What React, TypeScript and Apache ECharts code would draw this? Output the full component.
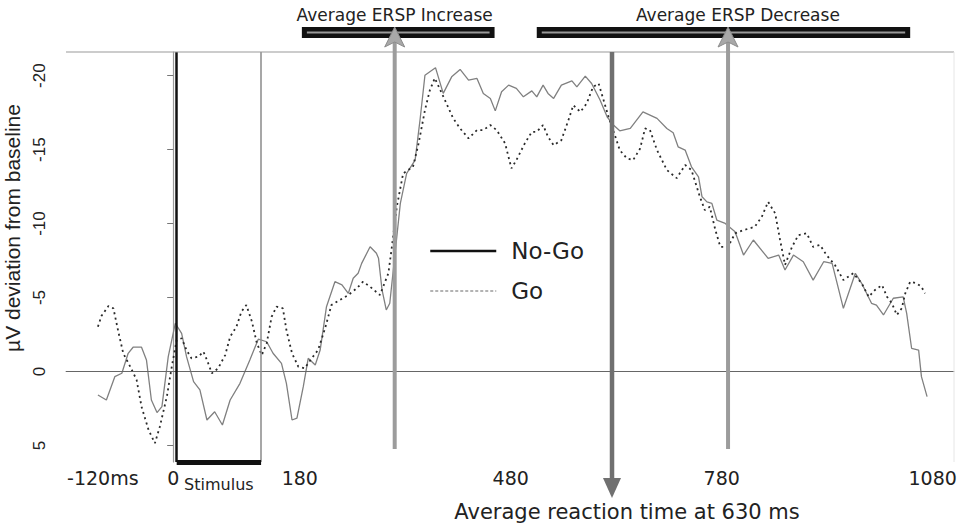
import React, { useEffect, useRef } from 'react';
import * as echarts from 'echarts';

// ---- data (time in ms, amplitude in µV; axis is inverted: negative up) ----
const noGoTimes = [
  -107, -95, -83, -73, -64, -57, -45, -38, -31, -23,
  -16, -7, 3, 12, 19, 29, 38, 48, 59, 70,
  81, 95, 109, 121, 133, 142, 154, 161, 169, 176,
  185, 192, 202, 209, 218, 230, 240, 249, 256, 263,
  268, 280, 289, 292, 297, 303, 308, 315, 323, 332,
  344, 351, 358, 373, 384, 396, 408, 420, 432, 441,
  451, 458, 467, 477, 488, 498, 510, 517, 526, 533,
  541, 552, 567, 574, 586, 595, 607, 617, 626, 635,
  650, 668, 688, 702, 711, 718, 728, 737, 747, 752,
  759, 766, 773, 785, 799, 811, 825, 846, 861, 870,
  882, 896, 910, 925, 937, 953, 970, 979, 993, 1000,
  1010, 1024, 1038, 1043, 1050, 1060, 1062, 1064, 1072,
];
const noGoValues = [
  1.59, 1.93, 0.35, 0.12, -1.23, -1.64, -1.64, -0.78, 1.93, 2.78,
  2.38, -1.0, -3.26, -2.58, -1.0, 0.69, 1.25, 3.28, 2.72, 3.62,
  1.93, 0.8, -0.78, -2.18, -2.01, -1.23, -0.55, 0.8, 3.28, 3.16,
  1.03, -0.89, -0.44, -1.45, -4.38, -6.07, -5.85, -5.28, -6.3, -6.64,
  -7.31, -8.43, -7.99, -7.65, -5.51, -4.16, -4.61, -7.76, -11.37, -13.39,
  -14.29, -17.0, -20.03, -20.54, -18.8, -19.92, -20.42, -19.7, -19.81, -18.8,
  -18.46, -17.62, -18.91, -19.36, -19.14, -18.57, -18.97, -18.57, -19.36, -18.8,
  -18.46, -19.36, -19.65, -19.24, -19.97, -19.47, -18.35, -17.22, -16.66, -16.27,
  -16.43, -17.55, -17.11, -16.43, -16.14, -15.19, -14.97, -13.84, -13.16, -11.81,
  -11.47, -11.37, -10.24, -10.01, -9.45, -7.87, -8.89, -7.65, -7.87, -6.86,
  -7.87, -7.42, -6.18, -7.42, -7.31, -4.27, -6.64, -5.96, -4.61, -4.49,
  -3.82, -4.95, -5.05, -3.93, -1.57, -1.45, -0.55, 0.35, 1.7,
];
const goTimes = [
  -107, -102, -92, -85, -78, -71, -61, -52, -45, -35,
  -26, -19, -9, -2, 5, 12, 19, 26, 36, 43,
  48, 55, 64, 74, 81, 90, 97, 104, 112, 119,
  126, 133, 140, 147, 156, 161, 169, 178, 187, 197,
  206, 216, 225, 237, 249, 261, 270, 280, 294, 306,
  311, 318, 327, 341, 349, 358, 365, 372, 384, 398,
  408, 420, 432, 441, 451, 460, 472, 481, 488, 500,
  510, 517, 526, 533, 541, 552, 562, 569, 579, 588,
  597, 605, 612, 619, 628, 635, 645, 654, 664, 671,
  678, 688, 702, 716, 728, 737, 749, 756, 763, 771,
  778, 789, 799, 811, 827, 837, 846, 856, 863, 870,
  880, 889, 901, 910, 920, 929, 941, 953, 967, 979,
  989, 998, 1008, 1015, 1022, 1029, 1036, 1041, 1048, 1057,
  1064, 1069,
];
const goValues = [
  -3.03, -3.75, -4.43, -4.27, -2.69, -1.23, -0.32, 0.57, 2.38, 3.95,
  4.85, 3.73, 1.7, -0.32, -2.13, -2.24, -1.45, -0.89, -1.0, -1.34,
  -0.78, 0.12, -0.22, -1.11, -2.35, -3.03, -4.04, -4.49, -3.37, -1.91,
  -1.11, -1.91, -3.7, -4.38, -4.27, -2.8, -1.23, -0.32, -0.22, -0.89,
  -1.45, -2.92, -4.49, -4.83, -5.17, -5.62, -6.07, -5.73, -5.17, -6.64,
  -8.43, -11.14, -13.39, -13.84, -15.42, -17.67, -19.02, -19.83, -18.6, -17.13,
  -16.43, -15.76, -16.32, -16.32, -16.66, -16.32, -15.42, -13.73, -14.29, -15.42,
  -16.2, -16.2, -16.66, -15.87, -15.3, -15.64, -16.99, -18.0, -17.55, -18.12,
  -19.24, -19.47, -18.35, -17.22, -15.98, -14.97, -14.41, -14.29, -15.08, -16.43,
  -16.32, -14.97, -13.62, -13.07, -13.96, -13.62, -11.81, -10.91, -11.14, -9.56,
  -8.43, -8.43, -9.34, -9.56, -9.78, -10.46, -11.47, -10.69, -8.89, -7.2,
  -8.43, -9.22, -9.34, -8.43, -8.55, -7.87, -7.2, -6.18, -6.64, -5.96,
  -5.05, -5.51, -5.84, -5.05, -4.61, -3.82, -4.27, -5.28, -6.07, -5.96,
  -5.73, -5.28,
];

const xTickValues = [-120, 0, 180, 480, 780, 1080];
const yTickValues = [-20, -15, -10, -5, 0, 5];

const xMin = -152.4;
const xMax = 1110.3;
const yMin = -21.6;
const yMax = 6.12;

const stimulusStart = 5;
const stimulusEnd = 125;
const erspIncreaseArrowAt = 315;
const reactionTimeArrowAt = 624;
const erspDecreaseArrowAt = 789;
const erspIncreaseRange = [183, 457];
const erspDecreaseRange = [517, 1048];
const erspDecreaseLabelAt = 803;

const SANS = '"DejaVu Sans", sans-serif';
const ARIAL = '"Liberation Sans", Arial, sans-serif';

export default function App() {
  const ref = useRef<HTMLDivElement>(null);

  useEffect(() => {
    const chart = echarts.init(ref.current!, null, { renderer: 'svg' });
    const option: any = {
      animation: false,
      backgroundColor: '#ffffff',
      grid: {
        left: 66,
        top: 52,
        right: 4,
        bottom: 67,
        containLabel: false,
        outerBoundsMode: 'none',
      },
      legend: {
        orient: 'vertical',
        left: 429,
        top: 238,
        padding: 0,
        itemWidth: 66,
        itemHeight: 20,
        itemGap: 14,
        textStyle: {
          fontFamily: SANS,
          fontSize: 23,
          color: '#222',
          lineHeight: 26,
          padding: [0, 0, 0, 10],
        },
        data: [
          {
            name: 'No-Go',
            itemStyle: { opacity: 0 },
            lineStyle: { color: '#111', width: 2.5, type: 'solid' },
          },
          {
            name: 'Go',
            itemStyle: { opacity: 0 },
            lineStyle: { color: '#9a9a9a', width: 1.5, type: [3, 2] },
          },
        ],
      },
      xAxis: {
        type: 'value',
        min: xMin,
        max: xMax,
        axisLine: { show: true, lineStyle: { color: '#9a9a9a', width: 1.2 } },
        axisTick: { show: false },
        splitLine: { show: false },
        axisLabel: {
          customValues: xTickValues,
          formatter: (v: number) => (v === -120 ? '{s|}-120ms' : String(v)),
          fontFamily: SANS,
          fontSize: 19,
          color: '#222',
          margin: 6,
          rich: { s: { width: 28 } },
        },
      },
      yAxis: {
        type: 'value',
        inverse: true,
        min: yMin,
        max: yMax,
        name: 'µV deviation from baseline',
        nameLocation: 'middle',
        nameGap: 33,
        nameTextStyle: {
          fontFamily: ARIAL,
          fontSize: 21,
          color: '#222',
          padding: [0, 0, 0, 58],
        },
        axisLine: { show: true, lineStyle: { color: '#9a9a9a', width: 1.2 } },
        axisTick: {
          show: true,
          customValues: yTickValues,
          length: 6,
          lineStyle: { color: '#777' },
        },
        splitLine: { show: false },
        axisLabel: {
          customValues: yTickValues,
          rotate: 90,
          fontFamily: ARIAL,
          fontSize: 17,
          color: '#222',
          margin: 18,
        },
      },
      series: [
        {
          name: 'No-Go',
          type: 'line',
          data: noGoTimes.map((t, i) => [t, noGoValues[i]]),
          symbol: 'none',
          z: 3,
          itemStyle: { color: '#111' },
          lineStyle: { color: '#808080', width: 1.3 },
          markLine: {
            silent: true,
            symbol: 'none',
            label: { show: false },
            data: [
              { yAxis: 0, lineStyle: { color: '#666', width: 1.2, type: 'solid' } },
              { xAxis: stimulusStart, lineStyle: { color: '#111', width: 2.5, type: 'solid' } },
              { xAxis: stimulusEnd, lineStyle: { color: '#8a8a8a', width: 1.5, type: 'solid' } },
            ],
          },
        },
        {
          name: 'Go',
          type: 'line',
          data: goTimes.map((t, i) => [t, goValues[i]]),
          symbol: 'none',
          z: 4,
          itemStyle: { color: '#9a9a9a' },
          lineStyle: { color: '#2a2a2a', width: 1.8, type: [2, 3.5] },
        },
      ],
    };
    chart.setOption(option);

    const px = (t: number, v: number) => chart.convertToPixel({ gridIndex: 0 }, [t, v]) as number[];
    const [xl, yt] = px(xMin, yMin);
    const [xr, yb] = px(xMax, yMax);
    const xInc = px(erspIncreaseArrowAt, 0)[0];
    const xRt = px(reactionTimeArrowAt, 0)[0];
    const xDec = px(erspDecreaseArrowAt, 0)[0];
    const xS0 = px(stimulusStart, 0)[0];
    const xS1 = px(stimulusEnd, 0)[0];
    const [b1a, b1b] = erspIncreaseRange.map((t) => px(t, 0)[0]);
    const [b2a, b2b] = erspDecreaseRange.map((t) => px(t, 0)[0]);
    const xDecLabel = px(erspDecreaseLabelAt, 0)[0];

    const bar = (a: number, b: number) => [
      { type: 'rect', z: 20, shape: { x: a, y: 27, width: b - a, height: 11 }, style: { fill: '#111' } },
      { type: 'line', z: 21, shape: { x1: a + 5, y1: 32.5, x2: b - 5, y2: 32.5 }, style: { stroke: '#9a9a9a', lineWidth: 2 } },
    ];
    const upArrow = (x: number) => [
      { type: 'line', z: 30, shape: { x1: x, y1: 449, x2: x, y2: 40 }, style: { stroke: '#9c9c9c', lineWidth: 4 } },
      {
        type: 'polygon', z: 31,
        shape: { points: [[x, 27], [x + 10, 47], [x, 42], [x - 10, 47]] },
        style: { fill: '#a8a8a8', stroke: '#8c8c8c', lineWidth: 1 },
      },
    ];
    const text = (s: string, x: number, y: number, size: number, family = SANS) => ({
      type: 'text', z: 40, x, y,
      style: { text: s, fill: '#222', fontSize: size, fontFamily: family, align: 'center', verticalAlign: 'middle' },
    });

    chart.setOption({
      graphic: [
        { type: 'line', z: 5, shape: { x1: xl, y1: yt, x2: xr, y2: yt }, style: { stroke: '#9a9a9a', lineWidth: 1.2 } },
        { type: 'line', z: 5, shape: { x1: xr, y1: yt, x2: xr, y2: yb }, style: { stroke: '#e6e6e6', lineWidth: 1 } },
        { type: 'rect', z: 20, shape: { x: xS0, y: 460, width: xS1 - xS0, height: 5 }, style: { fill: '#111' } },
        ...bar(b1a, b1b),
        ...bar(b2a, b2b),
        ...upArrow(xInc),
        ...upArrow(xDec),
        { type: 'line', z: 30, shape: { x1: xRt, y1: yt, x2: xRt, y2: 482 }, style: { stroke: '#707070', lineWidth: 4.5 } },
        {
          type: 'polygon', z: 31,
          shape: { points: [[xRt - 9, 478], [xRt + 9, 478], [xRt, 498]] },
          style: { fill: '#707070' },
        },
        text('Average ERSP Increase', xInc, 15, 17),
        text('Average ERSP Decrease', xDecLabel, 15, 17),
        text('Average reaction time at 630 ms', xRt + 15, 512, 21),
        text('Stimulus', (xS0 + xS1) / 2, 484, 16),
      ],
    });

    return () => chart.dispose();
  }, []);

  return (
    <div
      ref={ref}
      style={{ position: 'fixed', left: 0, top: 0, width: 958, height: 529 }}
    />
  );
}
